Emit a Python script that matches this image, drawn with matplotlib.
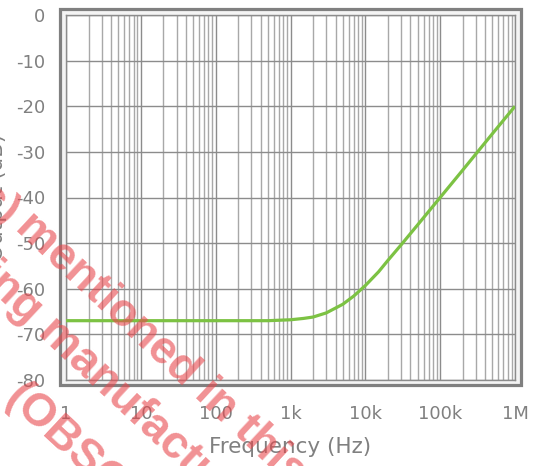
import numpy as np
import matplotlib
matplotlib.use('Agg')
import matplotlib.pyplot as plt
import matplotlib.ticker as ticker
from matplotlib.patches import Rectangle

# values
freq_hz = [1, 10, 100, 500, 1000, 1500, 2000, 3000, 5000, 7000, 10000,
           15000, 20000, 30000, 50000, 100000, 200000, 500000, 1000000]
level_db = [-67.0, -67.0, -67.0, -67.0, -66.8, -66.5, -66.2, -65.3, -63.4,
            -61.6, -59.3, -56.3, -53.8, -50.4, -46.0, -40.0, -34.0, -26.0,
            -20.0]

y_ticks = [0, -10, -20, -30, -40, -50, -60, -70, -80]
y_ticklabels = ['0', '-10', '-20', '-30', '-40', '-50', '-60', '-70', '-80']
x_ticks = [1, 10, 100, 1000, 10000, 100000, 1000000]
x_ticklabels = ['1', '10', '100', '1k', '10k', '100k', '1M']

W, H = 541, 466
GRAY_TXT = '#808080'

plt.rcParams['font.family'] = ['DejaVu Sans']

fig = plt.figure(figsize=(W / 100, H / 100), dpi=100)
ax = fig.add_axes([66 / W, 1 - 380 / H, (515 - 66) / W, (380 - 15) / H])

# outer double frame
fig.add_artist(Rectangle((60 / W, 1 - 385 / H), 461 / W, 376 / H,
                         transform=fig.transFigure, facecolor='#f4f4f4',
                         edgecolor='#808080', linewidth=2.3, zorder=-1))

ax.plot(freq_hz, level_db, color='#7cc243', linewidth=2.3, zorder=5,
        solid_capstyle='butt')

ax.set_xscale('log')
ax.set_xlim(1, 1e6)
ax.set_ylim(-80, 0)
ax.set_xticks(x_ticks)
ax.set_xticklabels(x_ticklabels)
ax.set_yticks(y_ticks)
ax.set_yticklabels(y_ticklabels)
ax.xaxis.set_minor_locator(ticker.LogLocator(base=10, subs=np.arange(2, 10)))
ax.xaxis.set_minor_formatter(ticker.NullFormatter())

ax.grid(which='major', axis='both', color='#8c8c8c', linewidth=1.0)
ax.grid(which='minor', axis='x', color='#a8a8a8', linewidth=1.0)
ax.set_axisbelow(True)

for s in ax.spines.values():
    s.set_color('#8c8c8c')
    s.set_linewidth(1.0)

ax.tick_params(which='both', length=0, labelsize=13, colors=GRAY_TXT)
ax.tick_params(axis='y', pad=15)
ax.tick_params(axis='x', pad=18)

ax.set_xlabel('Frequency (Hz)', fontsize=15.5, color=GRAY_TXT)
ax.xaxis.set_label_coords(290 / W, 1 - 437 / H, transform=fig.transFigure)
ax.set_ylabel('Output (dB)', fontsize=15.5, color=GRAY_TXT)
ax.yaxis.set_label_coords(7 / W, 1 - 197 / H, transform=fig.transFigure)

# diagonal watermark
wm = dict(fontsize=33, fontweight='bold', family=['Liberation Sans'],
          color='#e8474c', alpha=0.6, rotation=-43, rotation_mode='anchor',
          va='baseline', transform=fig.transFigure, zorder=20)
fig.text(14 / W, 1 - 229 / H, 'mentioned in this datasheet', ha='left', **wm)
fig.text(4 / W, 1 - 229 / H, 'product(s)', ha='right', **wm)
fig.text(-62 / W, 1 - 242 / H, 'being manufactured', ha='left', **wm)
fig.text(4 / W, 1 - 401 / H, '(OBSOLETE)', ha='left', **wm)

fig.savefig('out.png', dpi=100, facecolor='white')
